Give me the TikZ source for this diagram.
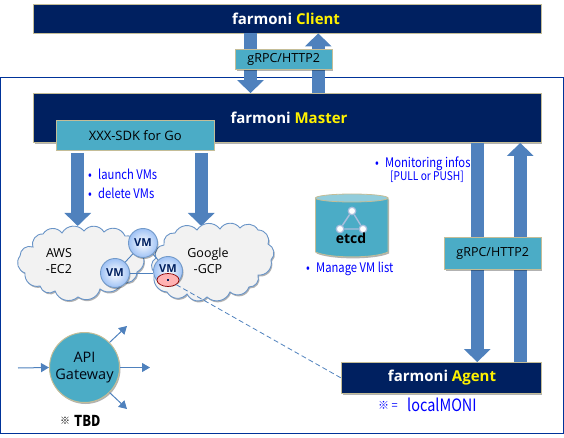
\documentclass[tikz,border=0pt]{standalone}
\usepackage{fontspec}
\setmainfont{Open Sans}
\newfontfamily\krfont[FakeStretch=0.85]{Noto Sans CJK KR}
\newfontfamily\krplain{Noto Sans CJK KR}
\usetikzlibrary{shapes.geometric,shadows,arrows.meta}
\definecolor{navy}{HTML}{002060}
\definecolor{tealbox}{HTML}{4BACC6}
\definecolor{tealtop}{HTML}{92CDDC}
\definecolor{arrowblue}{HTML}{4F81BD}
\definecolor{tan}{HTML}{C4BD97}
\definecolor{frameblue}{HTML}{003399}
\definecolor{cloudfill}{HTML}{F2F2F2}
\definecolor{ballblue}{HTML}{9FC2F5}
\definecolor{graphline}{HTML}{A9BEDD}
\newcommand{\blt}{\makebox[11pt][l]{\hspace{1pt}•}}
\tikzset{
  softshadow/.style={drop shadow={shadow xshift=1pt,shadow yshift=-1.5pt,opacity=.3,fill=black}},
  navybox/.style={draw=tan,line width=.8pt,fill=navy,rectangle,softshadow,inner sep=0pt},
  navylabel/.style={text=white,inner sep=0pt,font=\fontsize{15}{17}\selectfont\bfseries},
  tealrect/.style={draw=tan,line width=.8pt,fill=tealbox,text=black,rectangle,softshadow,inner sep=0pt,
    font=\fontsize{12.5}{15}\selectfont},
  blockarrow/.style={draw=arrowblue,line width=13pt,-{Triangle[width=26pt,length=13pt,fill=arrowblue]}},
  bluetext/.style={text=blue,inner sep=0pt,anchor=west,font=\krfont\fontsize{13.2}{15}\selectfont},
  cloudpath/.style={draw=arrowblue!85,line width=.9pt,fill=cloudfill,softshadow},
  puff/.style={bend left=55,looseness=1.1},
  cloudtext/.style={align=center,inner sep=0pt,font=\fontsize{12.5}{16}\selectfont},
  vmball/.style={circle,draw=arrowblue!80,line width=.9pt,inner color=white,outer color=ballblue,text=navy,
    minimum size=29pt,inner sep=0pt,font=\fontsize{11}{12}\selectfont\bfseries,softshadow},
  thinline/.style={draw=arrowblue,line width=.9pt},
  thinarrow/.style={draw=arrowblue,line width=1pt,-{Triangle[width=9pt,length=8pt,fill=arrowblue]}},
  graphdot/.style={circle,fill=white,draw=graphline,line width=1.2pt,inner sep=0pt,minimum size=7.5pt},
}
\begin{document}
\begin{tikzpicture}[x=1pt,y=-1pt]
\useasboundingbox (0,0) rectangle (564,438);
% frame
\node[draw=frameblue,line width=1pt,rectangle,inner sep=0pt,minimum width=562.5pt,minimum height=355.5pt] (frame) at (281.75,255.25) {};
% main boxes
\node[navybox,minimum width=507.5pt,minimum height=29pt] (client) at (287.25,18.5) {};
\node[navybox,minimum width=507.5pt,minimum height=49pt] (master) at (287.25,118) {};
\node[navybox,minimum width=199.5pt,minimum height=31pt] (agent) at (441.25,378) {};
\node[navylabel] (clientlabel) at (286,19) {farmoni \textcolor{yellow}{Client}};
\node[navylabel] (masterlabel) at (289,118) {farmoni \textcolor{yellow}{Master}};
\node[navylabel] (agentlabel) at (442,378) {farmoni \textcolor{yellow}{Agent}};
% arrow guides
\coordinate (cdown) at (250.5,0);
\coordinate (cup) at (318.25,0);
\coordinate (mdown) at (477.25,0);
\coordinate (mup) at (520.25,0);
\coordinate (s1) at (77.75,153);
\coordinate (s1e) at (77.75,226);
\coordinate (s2) at (201.25,153);
\coordinate (s2e) at (201.25,226);
% block arrows
\draw[blockarrow] (client.south -| cdown) -- (master.north -| cdown);
\draw[blockarrow] (master.north -| cup) -- (client.south -| cup);
\draw[blockarrow] (master.south -| mdown) -- (agent.north -| mdown);
\draw[blockarrow] (agent.north -| mup) -- (master.south -| mup);
\draw[blockarrow] (s1) -- (s1e);
\draw[blockarrow] (s2) -- (s2e);
% teal boxes
\node[tealrect,minimum width=96.5pt,minimum height=20pt] (grpctop) at (283.75,59.5) {gRPC/HTTP2};
\node[tealrect,minimum width=96.5pt,minimum height=31.5pt] (grpcright) at (492.75,253.25) {gRPC/HTTP2};
\node[tealrect,font=\fontsize{13}{15}\selectfont,minimum width=157.5pt,minimum height=29.5pt] (sdk) at (135.25,135.25) {XXX-SDK for Go};
% blue notes
\node[bluetext] (launch) at (87,174) {\blt launch VMs};
\node[bluetext] (delete) at (87,193) {\blt delete VMs};
\node[bluetext] (mon) at (374,164) {\blt Monitoring infos};
\node[text=blue,inner sep=0pt,font=\krfont\fontsize{12}{13}\selectfont] (pull) at (427,177) {[PULL or PUSH]};
\node[bluetext] (manage) at (305,269) {\blt Manage VM list};
% etcd
\path[draw=tan,line width=.8pt,fill=tealbox,softshadow] (315.5,198) -- (315.5,252) .. controls (330,258.5) and (374,258.5) .. (388,252) -- (388,198) -- cycle;
\node[ellipse,draw=tan,line width=.8pt,fill=tealtop,inner sep=0pt,minimum width=72.5pt,minimum height=8pt] (etcd) at (351.75,198) {};
\node[graphdot] (g1) at (352,211) {};
\node[graphdot] (g2) at (340,229) {};
\node[graphdot] (g3) at (363,229) {};
\draw[graphline,line width=1.4pt] (g1) -- (g2) -- (g3) -- (g1);
\node[inner sep=0pt,font=\fontsize{14}{15}\selectfont\bfseries] (etcdlabel) at (351,238.5) {etcd};
% clouds
\path[cloudpath] (25,273) to[puff] (20,256) to[puff] (33,247) to[puff] (43,234) to[puff] (62,233) to[puff] (84,231) to[puff] (104,232) to[puff] (125,236) to[puff] (140,252) to[puff] (137,272) to[puff] (122,282) to[puff] (100,289) to[puff] (78,297) to[puff] (55,291) to[puff] (40,286) to[puff] (25,273) -- cycle;
\path[cloudpath] (155,273) to[puff] (156,258) to[puff] (164,245) to[puff] (175,233) to[puff] (197,230) to[puff] (220,229) to[puff] (240,228) to[puff] (258,230) to[puff] (268,244) to[puff] (271,260) to[puff] (258,275) to[puff] (249,287) to[puff] (230,292) to[puff] (207,297) to[puff] (187,294) to[puff] (167,292) to[puff] (155,273) -- cycle;
\node[cloudtext] (awslabel) at (59,261) {AWS\\-EC2};
\node[cloudtext] (gcplabel) at (208,261) {Google\\-GCP};
% VMs
\coordinate (vm1) at (143,243);
\coordinate (vm2) at (115,273);
\coordinate (vm3) at (168,271);
\node[vmball] (n1) at (vm1) {VM};
\node[vmball] (n2) at (vm2) {VM};
\node[vmball] (n3) at (vm3) {\raisebox{4pt}{VM}};
\draw[thinline] (n1) -- (n2);
\draw[thinline] (n2.east) -- (n3.west |- n2.east);
\draw[thinline] (n1) -- (n3);
\node[ellipse,draw=red!55!black,line width=.7pt,fill=red!30,inner sep=0pt,minimum width=22pt,minimum height=13pt] (pink) at (168,280) {};
\node[rectangle,fill=navy,inner sep=0pt,minimum size=2pt] (pinkdot) at (168,280) {};
\draw[arrowblue,line width=.8pt,dash pattern=on 5pt off 3pt] (pink) -- (agent.west);
% API gateway
\node[circle,draw=tan,line width=1pt,fill=tealbox,softshadow,minimum size=70pt,inner sep=0pt,align=center,
  font=\fontsize{14.5}{17.5}\selectfont,text=black!80!navy] (api) at (84.5,367.5) {API\\Gateway};
\coordinate (inp) at (18,368);
\coordinate (o1) at (127,326);
\coordinate (o2) at (150,367.5);
\coordinate (o3) at (127,409);
\draw[thinarrow] (inp) -- (api.west);
\draw[thinarrow] (api.45) -- (o1);
\draw[thinarrow] (api.east) -- (o2);
\draw[thinarrow] (api.-45) -- (o3);
% footnotes
\node[inner sep=0pt,anchor=west,font=\krplain\fontsize{10}{12}\selectfont] (tbd1) at (60,421) {※};
\node[inner sep=0pt,anchor=west,font=\krfont\bfseries\fontsize{15}{15}\selectfont] (tbd2) at (74,421) {TBD};
\node[inner sep=0pt,anchor=west,text=blue,font=\krplain\fontsize{11}{13}\selectfont] (lm1) at (378,405) {※ =};
\node[inner sep=0pt,anchor=west,text=blue,font=\krfont\fontsize{17}{19}\selectfont] (lm2) at (407,405) {localMONI};
\end{tikzpicture}
\end{document}
